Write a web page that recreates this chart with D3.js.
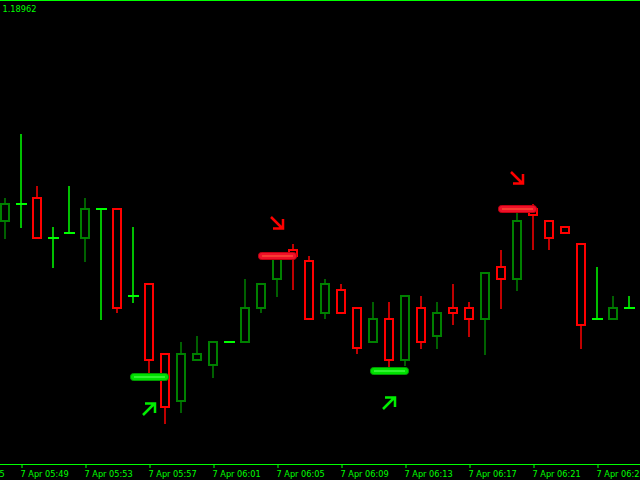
<!DOCTYPE html>
<html><head><meta charset="utf-8">
<script src="https://cdn.jsdelivr.net/npm/d3@7"></script>
<style>html,body{margin:0;padding:0;background:#000;overflow:hidden}svg{display:block}</style>
</head><body><svg id="c" width="640" height="480"></svg>
<script>
// ---- data (EURUSD M1, 7 Apr 05:48 .. 06:27) ----
const times = ["05:48","05:49","05:50","05:51","05:52","05:53","05:54","05:55","05:56","05:57",
  "05:58","05:59","06:00","06:01","06:02","06:03","06:04","06:05","06:06","06:07",
  "06:08","06:09","06:10","06:11","06:12","06:13","06:14","06:15","06:16","06:17",
  "06:18","06:19","06:20","06:21","06:22","06:23","06:24","06:25","06:26","06:27"];
const open  = [1.18749,1.18766,1.18772,1.18732,1.18737,1.18732,1.18761,1.18761,1.18674,1.18686,
  1.18616,1.18569,1.18610,1.18605,1.18628,1.18628,1.18662,1.18691,1.18720,1.18709,
  1.18657,1.18680,1.18662,1.18628,1.18651,1.18610,1.18662,1.18634,1.18662,1.18662,
  1.18651,1.18703,1.18691,1.18761,1.18749,1.18743,1.18726,1.18651,1.18651,1.18662];
const high  = [1.18772,1.18836,1.18784,1.18743,1.18784,1.18772,1.18761,1.18761,1.18743,1.18686,
  1.18616,1.18628,1.18634,1.18628,1.18628,1.18691,1.18686,1.18717,1.18726,1.18714,
  1.18691,1.18686,1.18662,1.18668,1.18668,1.18674,1.18674,1.18668,1.18686,1.18668,
  1.18697,1.18720,1.18760,1.18766,1.18749,1.18743,1.18726,1.18703,1.18674,1.18674];
const low   = [1.18731,1.18742,1.18732,1.18702,1.18737,1.18708,1.18650,1.18657,1.18667,1.18594,
  1.18546,1.18557,1.18610,1.18592,1.18628,1.18628,1.18657,1.18673,1.18680,1.18651,
  1.18651,1.18657,1.18616,1.18628,1.18603,1.18604,1.18621,1.18621,1.18645,1.18633,
  1.18615,1.18661,1.18679,1.18720,1.18720,1.18737,1.18621,1.18651,1.18651,1.18662];
const close = [1.18766,1.18766,1.18732,1.18732,1.18737,1.18761,1.18761,1.18662,1.18674,1.18610,
  1.18563,1.18616,1.18616,1.18628,1.18628,1.18662,1.18686,1.18714,1.18714,1.18651,
  1.18686,1.18657,1.18622,1.18651,1.18610,1.18674,1.18628,1.18657,1.18657,1.18651,
  1.18697,1.18691,1.18749,1.18755,1.18732,1.18737,1.18645,1.18651,1.18662,1.18662];

// signal levels (horizontal bars) and arrows
const barIndex = [9, 24, 17, 32];
const barPrice = [1.18593, 1.18599, 1.18714, 1.18761];
const barType  = ["buy", "buy", "sell", "sell"];
const arrowIndex = [9, 24, 17, 32];
const arrowPrice = [1.18561, 1.18567, 1.18747, 1.18792];
const arrowType  = ["buy", "buy", "sell", "sell"];

const tickIndex  = [-3, 1, 5, 9, 13, 17, 21, 25, 29, 33, 37];
const tickLabels = ["7 Apr 05:45","7 Apr 05:49","7 Apr 05:53","7 Apr 05:57","7 Apr 06:01",
  "7 Apr 06:05","7 Apr 06:09","7 Apr 06:13","7 Apr 06:17","7 Apr 06:21","7 Apr 06:25"];
const priceLabel = "1.18962";

// ---- drawing ----
const W = 640, H = 480, axisY = 464;
const FONT = "DejaVu Sans, Verdana, sans-serif", FS = 8.2;
const svg = d3.select("#c");
svg.append("rect").attr("width", W).attr("height", H).attr("fill", "#000");

const x = d3.scaleLinear().domain([0, 39]).range([5, 629]);
const y = d3.scaleLinear().domain([1.18506, 1.18970]).range([axisY, 0]);

const LIME = "#00ff00", UP = "#008000", DN = "#ff0000";
const data = times.map((t, i) => ({t, i, o: open[i], h: high[i], l: low[i], c: close[i]}));

const g = svg.append("g");
data.forEach(d => {
  const cx = Math.round(x(d.i));
  const doji = d.o === d.c;
  const col = doji ? LIME : (d.c > d.o ? UP : DN);
  const top = Math.min(y(d.o), y(d.c)), bot = Math.max(y(d.o), y(d.c));
  if (y(d.h) < top) g.append("line").attr("x1", cx).attr("x2", cx).attr("y1", y(d.h)).attr("y2", top)
      .attr("stroke", col).attr("stroke-width", 1.5);
  if (y(d.l) > bot) g.append("line").attr("x1", cx).attr("x2", cx).attr("y1", bot).attr("y2", y(d.l))
      .attr("stroke", col).attr("stroke-width", 1.5);
  if (doji) {
    g.append("line").attr("x1", cx - 5).attr("x2", cx + 6).attr("y1", y(d.o)).attr("y2", y(d.o))
      .attr("stroke", col).attr("stroke-width", 2);
  } else {
    g.append("rect").attr("x", cx - 4).attr("width", 8).attr("y", top).attr("height", bot - top)
      .attr("fill", "none").attr("stroke", col).attr("stroke-width", 2);
  }
});

// signal bars
barIndex.forEach((bi, k) => {
  const cx = x(bi), cy = y(barPrice[k]);
  const buy = barType[k] === "buy";
  const outer = buy ? "#009a00" : "#c00010", fill = buy ? "#00e000" : "#ee1028", inner = buy ? "#50ff50" : "#ff5a3a";
  svg.append("rect").attr("x", cx - 18.5).attr("y", cy - 3.5).attr("width", 38).attr("height", 7)
    .attr("rx", 3).attr("fill", fill).attr("stroke", outer).attr("stroke-width", 1);
  svg.append("line").attr("x1", cx - 15).attr("x2", cx + 16).attr("y1", cy).attr("y2", cy)
    .attr("stroke", inner).attr("stroke-width", 1.2);
});

// arrows
arrowIndex.forEach((ai, k) => {
  const cx = x(ai), cy = y(arrowPrice[k]);
  const buy = arrowType[k] === "buy";
  const col = buy ? "#00ee00" : "#ff0000";
  const s = buy ? -1 : 1;
  const p = d3.path();
  p.moveTo(cx - 6, cy - 6 * s); p.lineTo(cx + 5, cy + 5 * s);
  p.moveTo(cx - 4, cy + 5.5 * s); p.lineTo(cx + 6, cy + 5.5 * s); p.lineTo(cx + 6, cy - 4 * s);
  svg.append("path").attr("d", p.toString()).attr("fill", "none").attr("stroke", col)
    .attr("stroke-width", 2.5).attr("stroke-linejoin", "miter");
});

// top line + price label
svg.append("line").attr("x1", 0).attr("x2", W).attr("y1", 0.5).attr("y2", 0.5).attr("stroke", LIME).attr("stroke-width", 1.2);
svg.append("text").attr("x", 2.5).attr("y", 12).attr("fill", LIME)
  .attr("font-family", FONT).attr("font-size", FS).text(priceLabel);

// time axis
svg.append("line").attr("x1", 0).attr("x2", W).attr("y1", axisY + 0.5).attr("y2", axisY + 0.5).attr("stroke", LIME);
const axis = d3.axisBottom(x).tickValues(tickIndex).tickFormat((d, i) => tickLabels[i]).tickSize(4).tickPadding(0);
const ax = svg.append("g").attr("transform", `translate(0,${axisY})`).call(axis);
ax.select(".domain").remove();
ax.selectAll(".tick line").attr("stroke", LIME).attr("transform", "translate(0.5,0)");
ax.selectAll(".tick text").attr("fill", LIME).attr("text-anchor", "start").attr("x", -1).attr("dy", null).attr("y", 13)
  .attr("font-family", FONT).attr("font-size", FS);
</script></body></html>
